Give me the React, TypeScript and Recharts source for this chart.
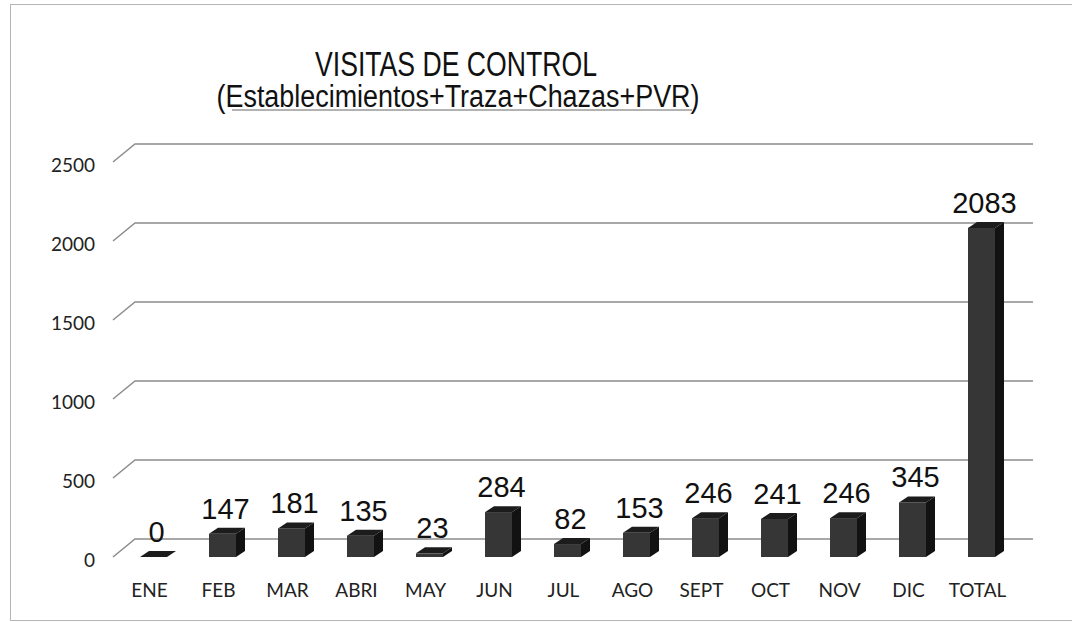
import { BarChart, Bar, XAxis, YAxis, CartesianGrid, LabelList } from 'recharts';

const months = ['ENE', 'FEB', 'MAR', 'ABRI', 'MAY', 'JUN', 'JUL', 'AGO', 'SEPT', 'OCT', 'NOV', 'DIC', 'TOTAL'];
const visits = [0, 147, 181, 135, 23, 284, 82, 153, 246, 241, 246, 345, 2083];
const yTicks = [0, 500, 1000, 1500, 2000, 2500];

const data = months.map((m, i) => ({ month: m, visits: visits[i] }));

// back wall offset of the fake 3d grid, and depth of each bar
const WALL_DX = 22;
const WALL_DY = -18;
const BAR_DX = 9;
const BAR_DY = -6;
const BAR_SHIFT = 5;

const axisFont = 'Lato, "Open Sans", sans-serif';
const titleFont = '"Liberation Sans Narrow", "Arial Narrow", "Liberation Sans", sans-serif';

function GridLine(props: any) {
  const { x1, y1, x2 } = props;
  return (
    <path
      key={props.key}
      d={`M${x1 - 1},${y1} L${x1 - 1 + WALL_DX},${y1 + WALL_DY} L${x2 + WALL_DX},${y1 + WALL_DY}`}
      stroke="#8c8c8c"
      strokeWidth={1.5}
      fill="none"
    />
  );
}

function Bar3D(props: any) {
  const { x, y, width, height } = props;
  const bx = x + BAR_SHIFT;
  const top = y;
  const bottom = y + height;
  const w = width;
  return (
    <g>
      <rect x={bx} y={top} width={w} height={Math.max(height, 0)} fill="#363636" />
      <path
        d={`M${bx},${top} L${bx + BAR_DX},${top + BAR_DY} L${bx + w + BAR_DX},${top + BAR_DY} L${bx + w},${top} Z`}
        fill="#1c1c1c"
      />
      <path
        d={`M${bx + w},${top} L${bx + w + BAR_DX},${top + BAR_DY} L${bx + w + BAR_DX},${bottom + BAR_DY} L${bx + w},${bottom} Z`}
        fill="#121212"
      />
    </g>
  );
}

function ValueLabel(props: any) {
  const { x, y, width, value } = props;
  return (
    <text
      x={x + width / 2 + BAR_SHIFT + 3}
      y={y - 15}
      textAnchor="middle"
      fontFamily='"Liberation Sans", Arial, sans-serif'
      fontSize={29}
      fill="#111"
    >
      {value}
    </text>
  );
}

function YTick(props: any) {
  const { x, y, payload } = props;
  return (
    <text x={x} y={y + 10} textAnchor="end" fontFamily={axisFont} fontSize={19} fill="#222">
      {payload.value}
    </text>
  );
}

function XTick(props: any) {
  const { x, y, payload } = props;
  return (
    <text x={x + 1} y={y + 40} textAnchor="middle" fontFamily={axisFont} fontSize={19} fill="#222">
      {payload.value}
    </text>
  );
}

export default function App() {
  return (
    <div style={{ position: 'absolute', left: 0, top: 0, width: 1072, height: 622, overflow: 'hidden', background: '#fff' }}>
      <div
        style={{
          position: 'absolute', left: 10, top: 4, width: 1080, height: 615,
          border: '1.5px solid #b5b5b5',
        }}
      />
      <svg style={{ position: 'absolute', left: 0, top: 0 }} width={1072} height={130}>
        <text
          x={456}
          y={76}
          textAnchor="middle"
          fontFamily={titleFont}
          fontSize={35}
          textLength={282}
          lengthAdjust="spacingAndGlyphs"
          fill="#111"
        >
          VISITAS DE CONTROL
        </text>
        <text
          x={458}
          y={107}
          textAnchor="middle"
          fontFamily={titleFont}
          fontSize={31}
          textLength={483}
          lengthAdjust="spacingAndGlyphs"
          fill="#111"
        >
          (Establecimientos+Traza+Chazas+PVR)
        </text>
        <line x1={232} y1={110} x2={692} y2={110} stroke="#666" strokeWidth={1} />
      </svg>
      <div style={{ position: 'absolute', left: 0, top: 0 }}>
        <BarChart
          width={1072}
          height={622}
          data={data}
          margin={{ top: 162, right: 61, bottom: 35, left: 54 }}
          barSize={27}
        >
          <CartesianGrid horizontal={GridLine} vertical={false} />
          <XAxis
            dataKey="month"
            axisLine={false}
            tickLine={false}
            tickSize={0}
            tickMargin={0}
            height={30}
            interval={0}
            tick={XTick}
          />
          <YAxis
            domain={[0, 2500]}
            ticks={yTicks}
            axisLine={false}
            tickLine={false}
            tickSize={0}
            tickMargin={19}
            width={60}
            tick={YTick}
          />
          <Bar dataKey="visits" shape={Bar3D} isAnimationActive={false}>
            <LabelList dataKey="visits" content={ValueLabel} />
          </Bar>
        </BarChart>
      </div>
    </div>
  );
}
